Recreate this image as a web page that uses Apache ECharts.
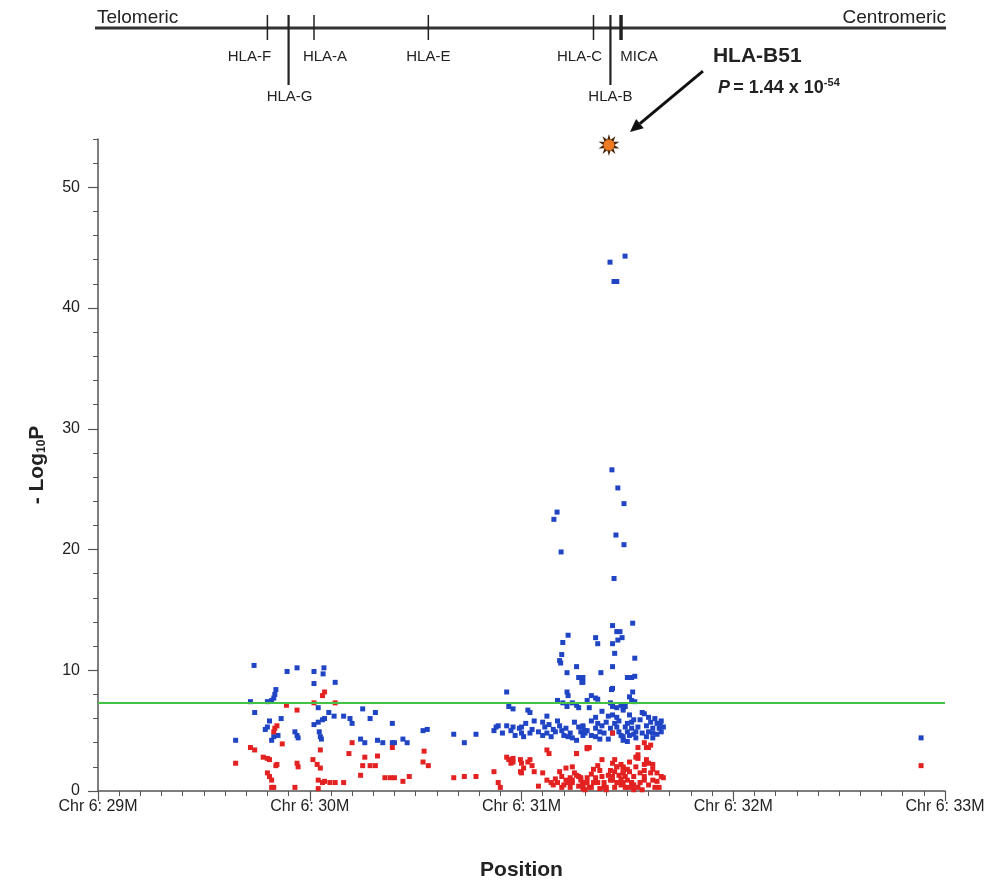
<!DOCTYPE html>
<html>
<head>
<meta charset="utf-8">
<script src="https://cdn.jsdelivr.net/npm/echarts@6/dist/echarts.min.js"></script>
<style>html,body{margin:0;padding:0;background:#fff}#c{width:1002px;height:882px}</style>
</head>
<body>
<div id="c"></div>
<script>
// ---------------- data ----------------
const xTickValues = [29, 30, 31, 32, 33];
const xTickLabels = ['Chr 6: 29M', 'Chr 6: 30M', 'Chr 6: 31M', 'Chr 6: 32M', 'Chr 6: 33M'];
const yMax = 54;
const significanceThreshold = 7.3;

const geneNames = ['HLA-F', 'HLA-G', 'HLA-A', 'HLA-E', 'HLA-C', 'HLA-B', 'MICA'];
const genePositions = [29.80, 29.90, 30.02, 30.56, 31.34, 31.42, 31.47];
const mapEnds = ['Telomeric', 'Centromeric'];

const topHit = [31.413, 53.5];
const topHitName = 'HLA-B51';
const topHitP = ['1.44 x 10', '-54'];

const bluePoints = [
  [29.65,4.2],[29.737,10.4],[29.72,7.4],[29.74,6.5],[29.79,5.1],[29.80,5.3],[29.80,7.4],[29.82,7.5],[29.83,7.7],
  [29.84,8.4],[29.835,8.0],[29.81,5.8],[29.865,6.0],[29.82,4.2],[29.83,4.5],[29.85,4.6],[29.893,9.9],[29.94,10.2],
  [29.93,4.9],[29.94,4.6],[29.945,4.4],[30.02,9.9],[30.067,10.2],[30.063,9.7],[30.02,8.9],[30.12,9.0],[30.04,6.9],
  [30.09,6.5],[30.115,6.2],[30.16,6.2],[30.19,6.0],[30.20,5.6],[30.25,6.8],[30.285,6.0],[30.31,6.5],[30.02,5.5],
  [30.04,5.7],[30.06,5.9],[30.07,6.0],[30.045,4.9],[30.05,4.5],[30.055,4.3],[30.39,5.6],[30.24,4.3],[30.26,4.0],
  [30.32,4.2],[30.345,4.0],[30.39,4.0],[30.40,4.0],[30.44,4.3],[30.46,4.0],[30.535,5.0],[30.555,5.1],
  [30.68,4.7],[30.73,4.0],[30.785,4.7],
  [31.418,43.8],[31.489,44.3],[31.437,42.2],[31.45,42.2],
  [31.427,26.6],[31.455,25.1],[31.484,23.8],[31.168,23.1],[31.153,22.5],[31.187,19.8],[31.446,21.2],[31.484,20.4],[31.437,17.6],
  [31.43,13.7],[31.525,13.9],[31.45,13.2],[31.465,13.2],[31.455,12.5],[31.475,12.7],[31.22,12.9],[31.195,12.3],
  [31.35,12.7],[31.36,12.2],[31.43,12.2],[31.44,11.4],[31.535,11.0],[31.19,11.3],[31.18,10.8],[31.185,10.6],
  [31.26,10.3],[31.215,9.8],[31.27,9.4],[31.285,9.0],[31.375,9.8],[31.43,10.3],[31.50,9.4],[31.52,9.4],[31.535,9.5],
  [31.29,9.4],[31.29,9.0],[31.43,8.5],[31.425,8.4],
  [31.215,8.2],[31.22,7.9],[31.17,7.5],[31.195,7.3],[31.215,7.0],[31.26,7.1],[31.27,6.9],[31.24,7.3],
  [31.33,7.9],[31.31,7.5],[31.35,7.7],[31.36,7.6],
  [31.525,8.2],[31.51,7.8],[31.52,7.5],[31.535,7.4],
  [31.42,7.3],[31.43,7.0],[31.45,6.9],[31.47,7.1],[31.48,6.9],[31.48,6.7],[31.49,7.0],[31.43,6.3],[31.45,6.1],
  [30.93,8.2],[30.94,7.0],[30.96,6.8],[31.03,6.7],[31.04,6.5],[31.06,5.8],
  [30.88,5.3],[30.87,5.0],[30.89,5.4],[30.91,4.8],[30.93,5.4],[30.96,5.3],[30.99,5.2],[31.0,4.8],[31.01,4.5],
  [31.04,4.8],[31.00,5.3],
  [31.10,5.7],[31.11,5.3],[31.12,4.8],[31.10,4.6],[31.14,4.5],[31.15,5.1],[31.17,5.8],[31.18,5.4],[31.19,5.0],
  [31.20,4.6],[31.22,4.5],[31.23,4.8],[31.24,4.4],[31.26,4.2],[31.27,5.3],[31.29,5.4],[31.28,4.9],[31.30,4.8],
  [31.31,5.0],[31.29,5.3],[31.30,5.0],[31.29,4.6],[31.35,6.1],[31.36,5.6],[31.35,5.2],[31.37,4.9],[31.35,4.5],
  [31.39,4.8],[31.38,5.4],[31.37,4.3],
  [31.45,5.3],[31.46,4.9],[31.48,4.5],[31.49,5.3],[31.50,4.9],[31.51,4.6],[31.52,5.7],[31.52,5.2],[31.53,5.9],
  [31.54,4.9],[31.55,5.3],[31.54,4.4],[31.48,4.2],[31.50,4.1],
  [31.58,6.4],[31.60,6.1],[31.61,5.7],[31.59,5.4],[31.62,5.2],[31.60,4.9],[31.62,4.8],[31.64,5.6],[31.65,5.2],
  [31.66,4.9],[31.62,4.4],[31.59,4.5],[31.67,5.3],[31.655,5.6],
  [31.41,4.3],[31.43,4.8],[31.42,5.2],
  [30.95,5.0],[30.97,4.6],[31.02,5.6],[31.05,5.1],[31.08,4.9],[31.13,5.5],[31.16,4.9],[31.21,5.2],[31.25,5.7],
  [31.33,5.8],[31.33,4.6],[31.40,5.7],[31.41,6.2],[31.44,5.6],[31.46,5.8],[31.47,4.6],[31.50,5.6],[31.51,6.3],
  [31.53,4.7],[31.56,5.9],[31.57,4.8],[31.63,6.0],[31.64,4.7],[31.66,5.8],[31.57,6.5],[31.38,6.6],[31.32,6.9],[31.12,6.2],
  [32.887,4.4]
];

const redPoints = [
  [29.65,2.3],[29.72,3.6],[29.74,3.4],[29.78,2.8],[29.80,2.7],[29.81,2.6],[29.80,1.5],[29.81,1.2],[29.82,0.9],
  [29.82,0.3],[29.83,0.3],[29.845,2.2],[29.84,2.1],[29.87,3.9],[29.835,5.2],[29.845,5.4],[29.83,4.9],[29.89,7.1],
  [29.94,6.7],[29.94,2.3],[29.945,2.0],[29.93,0.3],[30.02,7.3],[30.06,7.9],[30.07,8.2],[30.12,7.3],[30.05,3.4],
  [30.015,2.6],[30.035,2.2],[30.05,1.9],[30.04,0.9],[30.06,0.7],[30.07,0.8],[30.095,0.7],[30.12,0.7],[30.16,0.7],
  [30.04,0.2],[30.20,4.0],[30.185,3.1],[30.26,2.8],[30.32,2.9],[30.25,2.1],[30.285,2.1],[30.31,2.1],[30.24,1.3],
  [30.39,3.6],[30.355,1.1],[30.38,1.1],[30.40,1.1],[30.44,0.8],[30.47,1.2],[30.54,3.3],[30.535,2.4],[30.56,2.1],
  [30.68,1.1],[30.73,1.2],[30.785,1.2],
  [30.87,1.6],[30.89,0.7],[30.90,0.3],[30.93,2.8],[30.94,2.6],[30.95,2.3],[30.96,2.4],[30.96,2.7],[30.995,2.6],
  [31.0,2.3],[31.01,1.9],[31.03,2.4],[31.04,2.6],[31.06,1.6],[31.0,1.5],[30.995,1.6],[31.12,3.4],[31.13,3.1],
  [31.10,1.5],[31.12,0.9],[31.14,0.7],[31.15,0.5],[31.17,0.7],[31.18,1.6],[31.19,1.2],[31.20,0.5],[31.21,0.9],
  [31.22,0.7],[31.23,1.1],[31.24,0.7],[31.24,2.0],[31.25,1.5],[31.27,1.2],[31.28,0.9],[31.29,0.5],[31.26,3.1],
  [31.31,3.6],[31.19,0.3],[31.23,0.3],[31.24,0.9],[31.26,1.3],[31.28,1.1],[31.29,0.7],[31.29,0.2],[31.31,0.7],
  [31.33,0.3],[31.35,0.7],[31.35,1.1],[31.37,0.2],[31.39,0.7],[31.40,0.3],[31.42,0.9],[31.43,1.2],[31.45,2.0],
  [31.44,0.3],[31.46,0.7],[31.48,1.5],[31.48,2.0],[31.49,0.3],[31.50,0.9],[31.51,1.6],[31.52,0.7],[31.52,0.3],
  [31.53,1.2],[31.54,2.0],[31.55,2.7],[31.55,3.6],[31.56,0.7],[31.58,1.2],[31.58,2.2],[31.60,2.3],[31.61,1.5],
  [31.62,0.9],[31.63,0.3],[31.65,0.3],[31.66,1.2],[31.67,1.1],[31.60,3.6],[31.61,3.8],[31.32,3.6],[31.26,3.1],
  [31.31,3.5],[31.43,4.8],[31.58,4.0],[31.59,3.6],[31.54,2.8],[31.55,3.0],[31.62,2.2],[31.58,1.7],[31.64,1.5],
  [31.43,2.3],[31.45,2.0],[31.47,2.2],[31.48,1.9],[31.42,1.7],[31.44,1.6],[31.46,1.3],[31.48,1.5],[31.49,1.2],
  [31.43,0.9],[31.45,0.7],[31.47,0.5],[31.48,0.7],[31.50,0.3],[31.52,0.7],[31.37,1.7],[31.38,1.2],[31.36,0.7],
  [31.39,0.3],[31.34,0.7],[31.32,0.3],[31.31,1.1],[31.29,0.5],[31.30,0.1],[31.40,0.1],[31.55,0.3],[31.57,0.1],
  [31.53,0.1],[31.58,0.9],[31.60,0.5],
  [31.16,1.0],[31.21,1.9],[31.27,0.4],[31.33,1.4],[31.36,2.1],[31.41,1.3],[31.44,2.6],[31.47,1.0],[31.50,1.8],
  [31.51,2.4],[31.53,0.5],[31.56,1.5],[31.59,2.6],[31.62,1.8],[31.64,0.8],[31.38,2.6],[31.34,1.8],[31.05,2.1],[31.08,0.4],
  [32.887,2.1]
];

// ---------------- styles ----------------
const FONT = '"Liberation Sans", Arial, Helvetica, sans-serif';
const INK = '#222';
const AXIS = '#555';
// label placement of each gene in the map (pixel offsets: style only)
const geneStyle = {
  'HLA-F': {dx: -18, row: 1, long: false, w: 1.5},
  'HLA-G': {dx: 1, row: 2, long: true, w: 2.2},
  'HLA-A': {dx: 11, row: 1, long: false, w: 1.5},
  'HLA-E': {dx: 0, row: 1, long: false, w: 1.5},
  'HLA-C': {dx: -14, row: 1, long: false, w: 1.5},
  'HLA-B': {dx: 0, row: 2, long: true, w: 2.2},
  'MICA':  {dx: 18, row: 1, long: false, w: 3.5}
};

function starPoints(cx, cy, rOut, rIn, n) {
  const pts = [];
  for (let k = 0; k < n * 2; k++) {
    const r = k % 2 === 0 ? rOut : rIn;
    const a = Math.PI * k / n - Math.PI / 2;
    pts.push([cx + r * Math.cos(a), cy + r * Math.sin(a)]);
  }
  return pts;
}

const chart = echarts.init(document.getElementById('c'), null, {renderer: 'canvas'});

const option = {
  animation: false,
  backgroundColor: '#fff',
  textStyle: {fontFamily: FONT},
  grid: [
    {left: 98, right: 57, top: 139, bottom: 91, containLabel: false, outerBoundsMode: 'none'},
    {left: 98, right: 57, top: 10, height: 90, containLabel: false, outerBoundsMode: 'none'}
  ],
  xAxis: [
    {
      gridIndex: 0, type: 'value', min: 29, max: 33, interval: 1,
      axisLine: {show: true, onZero: false, lineStyle: {color: AXIS, width: 1.5}},
      axisTick: {show: true, length: 10, lineStyle: {color: AXIS, width: 1.2}},
      minorTick: {show: true, splitNumber: 10, length: 5, lineStyle: {color: AXIS, width: 1}},
      splitLine: {show: false},
      axisLabel: {
        color: INK, fontSize: 16, fontFamily: FONT, margin: 8,
        formatter: v => { const i = xTickValues.indexOf(v); return i >= 0 ? xTickLabels[i] : ''; }
      },
      name: 'Position', nameLocation: 'middle', nameGap: 69,
      nameTextStyle: {color: INK, fontSize: 21, fontWeight: 'bold', fontFamily: FONT}
    },
    {gridIndex: 1, type: 'value', min: 29, max: 33, show: false}
  ],
  yAxis: [
    {
      gridIndex: 0, type: 'value', min: 0, max: yMax, interval: 10, position: 'left',
      axisLine: {show: true, onZero: false, lineStyle: {color: AXIS, width: 1.5}},
      axisTick: {show: true, length: 10, lineStyle: {color: AXIS, width: 1.2}},
      splitLine: {show: false},
      axisLabel: {color: INK, fontSize: 16, fontFamily: FONT, margin: 18, showMaxLabel: false},
      name: '{a|- Log}{s|10}{a|P}', nameLocation: 'middle', nameGap: 50, nameRotate: 90,
      nameTextStyle: {
        rich: {
          a: {fontSize: 21, fontWeight: 'bold', color: INK, fontFamily: FONT},
          s: {fontSize: 12, fontWeight: 'bold', color: INK, fontFamily: FONT, verticalAlign: 'bottom', padding: [8, 0, 0, 0]}
        }
      }
    },
    {
      gridIndex: 0, type: 'value', min: 0, max: yMax, interval: 2, position: 'left',
      axisLine: {show: false}, axisTick: {show: true, length: 5, lineStyle: {color: AXIS, width: 1}},
      axisLabel: {show: false}, splitLine: {show: false}
    },
    {gridIndex: 1, type: 'value', min: 0, max: 1, show: false}
  ],
  series: [
    {
      name: 'blue', type: 'scatter', xAxisIndex: 0, yAxisIndex: 0,
      data: bluePoints, symbol: 'rect', symbolSize: 5,
      itemStyle: {color: '#1f44c4', opacity: 1},
      markLine: {
        silent: true, symbol: ['none', 'none'], label: {show: false},
        lineStyle: {color: '#45c245', width: 2, type: 'solid'},
        data: [{yAxis: significanceThreshold}]
      }
    },
    {
      name: 'red', type: 'scatter', xAxisIndex: 0, yAxisIndex: 0,
      data: redPoints, symbol: 'rect', symbolSize: 5,
      itemStyle: {color: '#e42121', opacity: 1}
    },
    {
      name: 'top', type: 'custom', xAxisIndex: 0, yAxisIndex: 0,
      data: [topHit],
      renderItem: (params, api) => {
        const p = api.coord([api.value(0), api.value(1)]);
        const sx = p[0], sy = p[1];
        const ax1 = sx + 94, ay1 = sy - 74, ax2 = sx + 21, ay2 = sy - 13;
        const ang = Math.atan2(ay2 - ay1, ax2 - ax1);
        const hl = 13, hw = 6;
        const bx = ax2 - hl * Math.cos(ang), by = ay2 - hl * Math.sin(ang);
        return {
          type: 'group',
          children: [
            {type: 'polygon', shape: {points: starPoints(sx, sy, 11, 5.5, 10)}, style: {fill: '#4a2608'}},
            {type: 'circle', shape: {cx: sx, cy: sy, r: 5.5}, style: {fill: '#ee7a22'}},
            {type: 'line', shape: {x1: ax1, y1: ay1, x2: bx, y2: by}, style: {stroke: '#111', lineWidth: 3}},
            {type: 'polygon', shape: {points: [
              [ax2, ay2],
              [bx + hw * Math.sin(ang), by - hw * Math.cos(ang)],
              [bx - hw * Math.sin(ang), by + hw * Math.cos(ang)]
            ]}, style: {fill: '#111'}},
            {type: 'text', x: sx + 104, y: sy - 89, style: {
              text: topHitName, fill: INK, fontSize: 21, fontWeight: 'bold', fontFamily: FONT,
              textAlign: 'left', textVerticalAlign: 'middle'
            }},
            {type: 'text', x: sx + 109, y: sy - 57, style: {
              text: '{i|P} {n|= ' + topHitP[0] + '}{u|' + topHitP[1] + '}',
              fill: INK, textAlign: 'left', textVerticalAlign: 'middle',
              rich: {
                i: {fontSize: 18, fontWeight: 'bold', fontStyle: 'italic', fontFamily: FONT, fill: INK},
                n: {fontSize: 18, fontWeight: 'bold', fontFamily: FONT, fill: INK},
                u: {fontSize: 11, fontWeight: 'bold', fontFamily: FONT, fill: INK, verticalAlign: 'top', padding: [0, 0, 10, 0]}
              }
            }}
          ]
        };
      }
    },
    {
      name: 'backbone', type: 'custom', xAxisIndex: 1, yAxisIndex: 2,
      data: [[xTickValues[0], xTickValues[xTickValues.length - 1]]],
      renderItem: (params, api) => {
        const top = params.coordSys.y;
        const x1 = api.coord([api.value(0), 0])[0] - 3;
        const x2 = api.coord([api.value(1), 0])[0] + 1;
        const y = top + 18;
        return {
          type: 'group',
          children: [
            {type: 'line', shape: {x1: x1, y1: y, x2: x2, y2: y}, style: {stroke: '#333', lineWidth: 3}},
            {type: 'text', x: x1 + 2, y: y - 1, style: {text: mapEnds[0], fill: INK, fontSize: 19, fontFamily: FONT, textAlign: 'left', textVerticalAlign: 'bottom'}},
            {type: 'text', x: x2, y: y - 1, style: {text: mapEnds[1], fill: INK, fontSize: 19, fontFamily: FONT, textAlign: 'right', textVerticalAlign: 'bottom'}}
          ]
        };
      }
    },
    {
      name: 'genes', type: 'custom', xAxisIndex: 1, yAxisIndex: 2,
      data: genePositions.map((p, i) => [p, 0, i]),
      renderItem: (params, api) => {
        const i = api.value(2);
        const name = geneNames[i];
        const st = geneStyle[name];
        const x = api.coord([api.value(0), 0])[0];
        const top = params.coordSys.y;
        return {
          type: 'group',
          children: [
            {type: 'line', shape: {x1: x, y1: top + 5, x2: x, y2: top + (st.long ? 75 : 30)}, style: {stroke: '#222', lineWidth: st.w}},
            {type: 'text', x: x + st.dx, y: top + (st.row === 2 ? 87 : 47), style: {
              text: name, fill: INK, fontSize: 15, fontFamily: FONT, textAlign: 'center', textVerticalAlign: 'middle'
            }}
          ]
        };
      }
    }
  ]
};
chart.setOption(option);
</script>
</body>
</html>
